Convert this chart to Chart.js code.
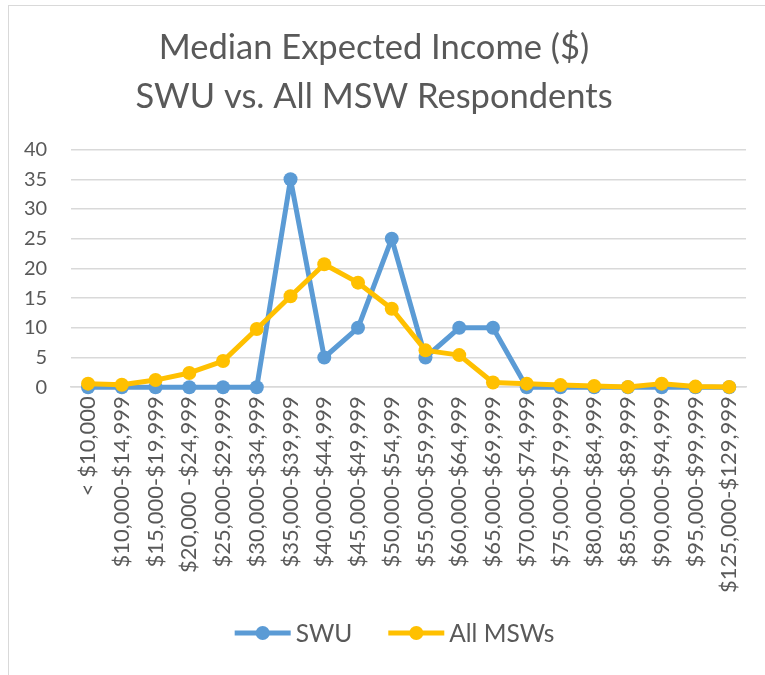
<!DOCTYPE html>
<html>
<head>
<meta charset="utf-8">
<script src="https://cdn.jsdelivr.net/npm/chart.js@4"></script>
<style>
html,body{margin:0;padding:0;background:#fff;}
#frame{position:absolute;left:8px;top:5px;width:770px;height:680px;border:1px solid #d9d9d9;box-sizing:border-box;}
#wrap{position:absolute;left:0;top:0;width:765px;height:675px;}
</style>
</head>
<body>
<div id="frame"></div>
<div id="wrap"><canvas id="c" width="765" height="675"></canvas></div>
<script>
const categories = ["< $10,000","$10,000-$14,999","$15,000-$19,999","$20,000 -$24,999","$25,000-$29,999","$30,000-$34,999","$35,000-$39,999","$40,000-$44,999","$45,000-$49,999","$50,000-$54,999","$55,000-$59,999","$60,000-$64,999","$65,000-$69,999","$70,000-$74,999","$75,000-$79,999","$80,000-$84,999","$85,000-$89,999","$90,000-$94,999","$95,000-$99,999","$125,000-$129,999"];
const swu = [0,0,0,0,0,0,35,5,10,25,5,10,10,0,0,0,0,0,0,0];
const allMsw = [0.6,0.4,1.2,2.4,4.4,9.8,15.3,20.7,17.6,13.2,6.2,5.4,0.8,0.6,0.35,0.2,0.05,0.6,0.1,0.05];
const seriesNames = ["SWU","All MSWs"];
const titleLines = ["Median Expected Income ($)","SWU vs. All MSW Respondents"];
const yTicks = [0,5,10,15,20,25,30,35,40];

const FONT = "Lato, 'Open Sans', sans-serif";
const GRAY = "#595959";
const COLORS = ['#5b9bd5','#ffc000'];

const customLegend = {
  id:'customLegend',
  afterDraw(chart){
    const ctx = chart.ctx;
    ctx.save();
    ctx.font = "24.5px " + FONT;
    ctx.textBaseline = 'middle';
    const lineW = 56, gapText = 5, gapItem = 36;
    const items = chart.data.datasets.map((d,i)=>({label:d.label,color:d.borderColor,w:lineW+gapText+ctx.measureText(d.label).width}));
    const total = items.reduce((s,it)=>s+it.w,0) + gapItem*(items.length-1);
    let x = (chart.width - total)/2 + 12;
    const y = 633;
    items.forEach(it=>{
      ctx.strokeStyle = it.color; ctx.lineWidth = 5; ctx.lineCap='butt';
      ctx.beginPath(); ctx.moveTo(x,y); ctx.lineTo(x+lineW,y); ctx.stroke();
      ctx.fillStyle = it.color; ctx.beginPath(); ctx.arc(x+lineW/2,y,7,0,Math.PI*2); ctx.fill();
      ctx.fillStyle = GRAY; ctx.textAlign='left';
      ctx.fillText(it.label, x+lineW+gapText, y+1);
      x += it.w + gapItem;
    });
    ctx.restore();
  }
};

new Chart(document.getElementById('c'), {
  type: 'line',
  data: {
    labels: categories,
    datasets: [
      {label:seriesNames[0], data: swu, order:2, borderColor:COLORS[0], backgroundColor:COLORS[0], borderWidth:5, pointRadius:7, pointBackgroundColor:COLORS[0], pointBorderWidth:0, tension:0, borderJoinStyle:'round', borderCapStyle:'round'},
      {label:seriesNames[1], data: allMsw, order:1, borderColor:COLORS[1], backgroundColor:COLORS[1], borderWidth:5, pointRadius:7, pointBackgroundColor:COLORS[1], pointBorderWidth:0, tension:0, borderJoinStyle:'round', borderCapStyle:'round'}
    ]
  },
  options: {
    responsive:false,
    animation:false,
    clip:false,
    layout:{padding:{left:0,right:17,top:24,bottom:73}},
    plugins:{
      title:{display:true, text:titleLines, color:GRAY, font:{family:FONT,size:34.5,weight:'normal',lineHeight:1.4}, padding:{top:0,bottom:29}},
      legend:{display:false},
      tooltip:{enabled:false}
    },
    scales:{
      x:{
        offset:true,
        grid:{display:false, drawTicks:false},
        border:{display:true,color:'#d9d9d9',width:1.5},
        ticks:{color:GRAY, font:{family:FONT,size:22}, maxRotation:90, minRotation:90, autoSkip:false, padding:9}
      },
      y:{
        min:0,max:40,
        afterBuildTicks:(ax)=>{ax.ticks = yTicks.map(v=>({value:v}));},
        grid:{color:'#d9d9d9', lineWidth:1.5, drawTicks:false},
        border:{display:false},
        ticks:{color:GRAY, font:{family:FONT,size:20}, padding:24}
      }
    }
  },
  plugins:[customLegend]
});
</script>
</body>
</html>
